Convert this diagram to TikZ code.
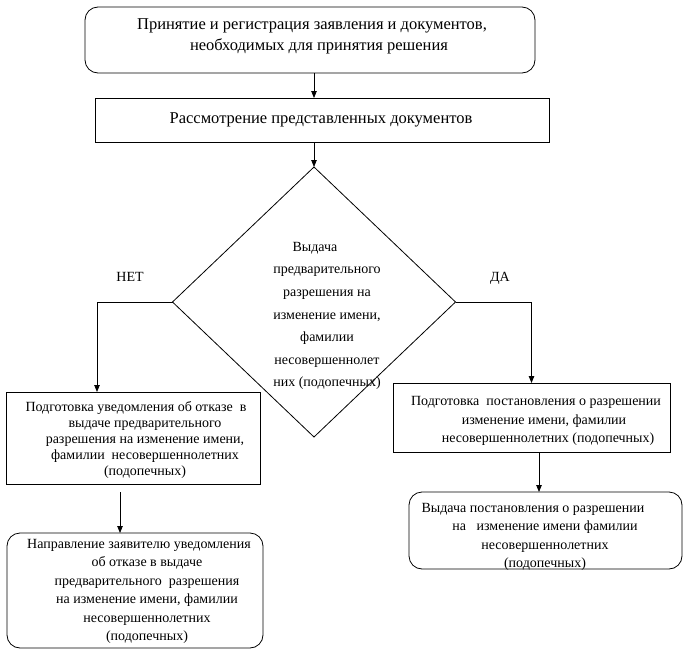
\documentclass[tikz,border=0pt]{standalone}
\usepackage{fontspec}
\setmainfont{Liberation Serif}
\usetikzlibrary{arrows.meta,shapes.geometric}
\begin{document}
\begin{tikzpicture}[x=1pt,y=-1pt,
  every node/.style={inner sep=0pt, outer sep=0pt},
  box/.style={draw, line width=0.8pt},
  rbox/.style={box, rounded corners=13pt},
  big/.style={align=center, font=\fontsize{16.5}{21}\selectfont},
  txt/.style={align=center, font=\fontsize{14}{18.5}\selectfont},
  arr/.style={line width=0.8pt, -{Triangle[length=7pt,width=5.5pt]}}]
\useasboundingbox (0,0) rectangle (686,656);
% boxes
\node[rbox, minimum width=450pt, minimum height=66pt] (top) at (310,40) {};
\node[box, minimum width=454pt, minimum height=44pt] (mid) at (322,120) {};
\node[draw, line width=0.8pt, diamond, minimum width=283pt, minimum height=270pt] (dia) at (314,302) {};
\node[box, minimum width=254pt, minimum height=92pt] (lb) at (133,438) {};
\node[box, minimum width=277pt, minimum height=69pt] (rb) at (531.5,417.5) {};
\node[rbox, minimum width=256pt, minimum height=115pt] (bl) at (135,590.5) {};
\node[rbox, minimum width=273pt, minimum height=77pt] (br) at (545.5,530.5) {};
% texts
\node[big] (topt) at (312,36)
  {Принятие и регистрация заявления и документов,\\ \hspace*{14pt}необходимых для принятия решения};
\node[big] (midt) at (321,120) {Рассмотрение представленных документов};
\node[align=center, font=\fontsize{14}{22.6}\selectfont] (diat) at (327,316)
  {Выдача\hspace*{24pt}\\предварительного\\разрешения на\\изменение имени,\\фамилии\\несовершеннолет\\них (подопечных)};
\node[font=\fontsize{14}{18}\selectfont] (net) at (130,277) {НЕТ};
\node[font=\fontsize{14}{18}\selectfont] (da) at (500,278) {ДА};
\node[align=center, font=\fontsize{14}{16}\selectfont] (lbt) at (145,440)
  {Подготовка уведомления об отказе\ \ в\hspace*{18pt}\\выдаче предварительного\\разрешения на изменение имени,\\фамилии\ \ несовершеннолетних\\(подопечных)};
\node[txt] (rbt) at (544,421)
  {Подготовка\ \ постановления о разрешении\hspace*{16pt}\\изменение имени, фамилии\hspace*{6pt}\\\hspace*{8pt}несовершеннолетних (подопечных)};
\node[txt] (blt) at (147,591.5)
  {Направление заявителю уведомления\hspace*{16pt}\\об отказе в выдаче\\предварительного\ \ разрешения\\на изменение имени, фамилии\\несовершеннолетних\\(подопечных)};
\node[txt] (brt) at (545,537)
  {Выдача постановления о разрешении\hspace*{24pt}\\на\ \ \ изменение имени фамилии\\несовершеннолетних\\(подопечных)};
% connectors
\coordinate (lx) at (97,0);
\coordinate (lx2) at (120,0);
\coordinate (rx2) at (539,0);
\draw[arr] (top.south -| dia.north) -- (mid.north -| dia.north);
\draw[arr] (mid.south -| dia.north) -- (dia.north);
\draw[arr] (dia.west) -| (lx |- lb.north);
\draw[arr] (dia.east) -| (rb.north);
\draw[arr, shorten <=8pt] (lx2 |- lb.south) -- (lx2 |- bl.north);
\draw[arr] (rx2 |- rb.south) -- (rx2 |- br.north);
\end{tikzpicture}
\end{document}
